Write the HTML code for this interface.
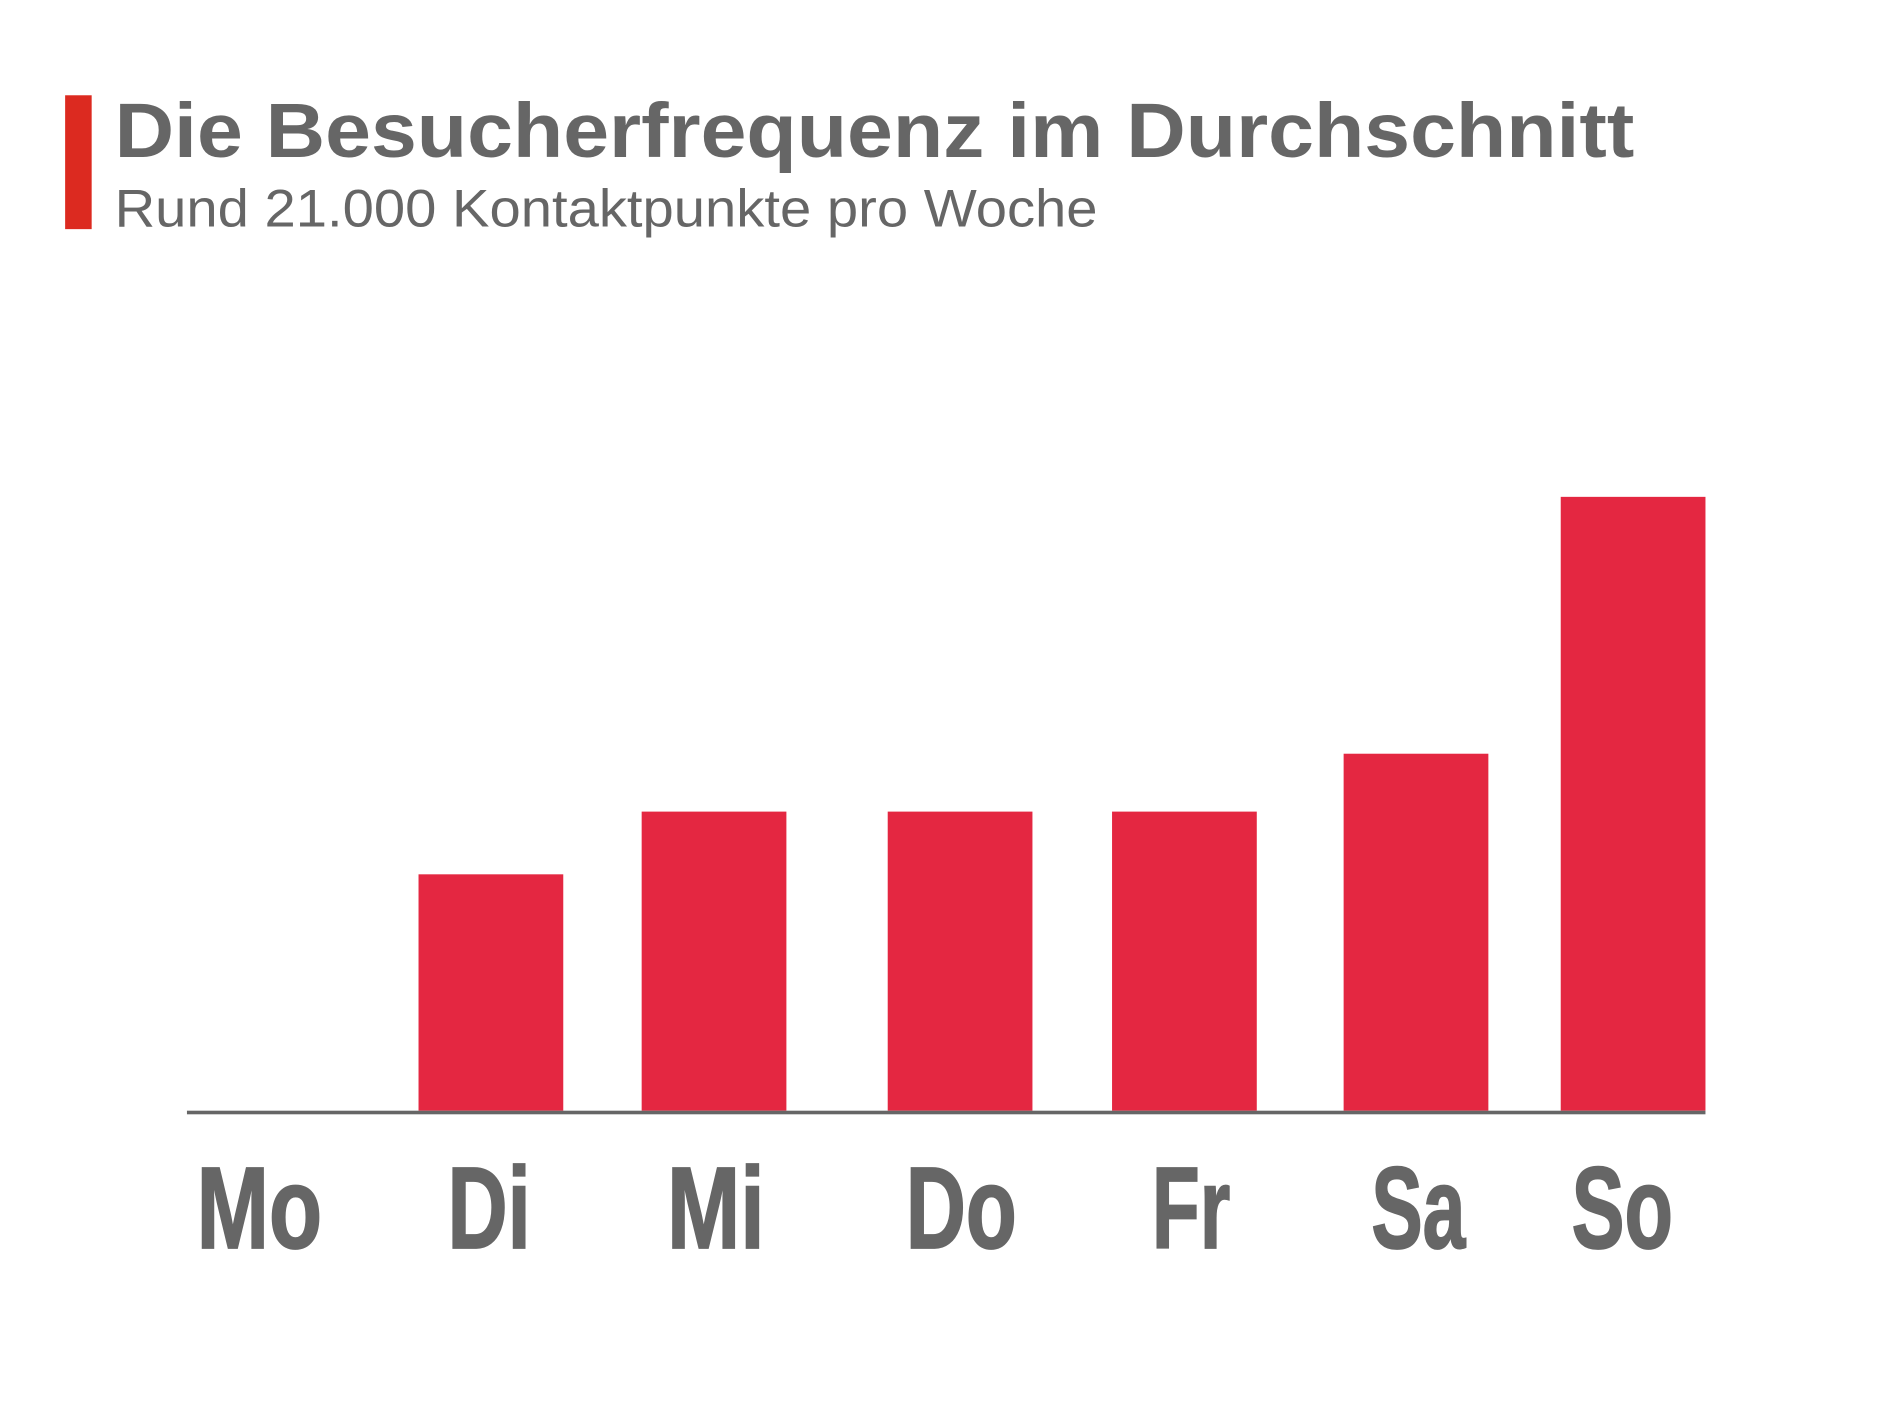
<!DOCTYPE html>
<html><head><meta charset="utf-8"><style>
html,body{margin:0;padding:0;background:#fff;}
svg{display:block;}
</style></head><body>
<svg width="1890" height="1417" viewBox="0 0 1567 1175" preserveAspectRatio="none" xmlns="http://www.w3.org/2000/svg">
<rect x="0" y="0" width="1567" height="1175" fill="#fff"/>
<rect x="54" y="79" width="22" height="111" fill="#DC2A20"/>
<text x="95" y="130" font-family="Liberation Sans, sans-serif" font-weight="bold" font-size="64" fill="#666" textLength="1260" lengthAdjust="spacingAndGlyphs">Die Besucherfrequenz im Durchschnitt</text>
<text x="95" y="188" font-family="Liberation Sans, sans-serif" font-size="44" fill="#666" textLength="815" lengthAdjust="spacingAndGlyphs">Rund 21.000 Kontaktpunkte pro Woche</text>
<g fill="#E42741">
<rect x="347" y="725" width="120" height="196"/>
<rect x="532" y="673" width="120" height="248"/>
<rect x="736" y="673" width="120" height="248"/>
<rect x="922" y="673" width="120" height="248"/>
<rect x="1114" y="625" width="120" height="296"/>
<rect x="1294" y="412" width="120" height="509"/>
</g>
<rect x="155" y="921" width="1259" height="3" fill="#666"/>
<g font-family="Liberation Sans Narrow, Liberation Sans, sans-serif" font-weight="bold" font-size="96" fill="#666" stroke="#666" stroke-width="1.5">
<text x="163" y="1035" textLength="104" lengthAdjust="spacingAndGlyphs">Mo</text>
<text x="371" y="1035" textLength="69" lengthAdjust="spacingAndGlyphs">Di</text>
<text x="553" y="1035" textLength="81" lengthAdjust="spacingAndGlyphs">Mi</text>
<text x="751" y="1035" textLength="92" lengthAdjust="spacingAndGlyphs">Do</text>
<text x="955" y="1035" textLength="65" lengthAdjust="spacingAndGlyphs">Fr</text>
<text x="1137" y="1035" textLength="78" lengthAdjust="spacingAndGlyphs">Sa</text>
<text x="1303" y="1035" textLength="84" lengthAdjust="spacingAndGlyphs">So</text>
</g>
</svg>
</body></html>
